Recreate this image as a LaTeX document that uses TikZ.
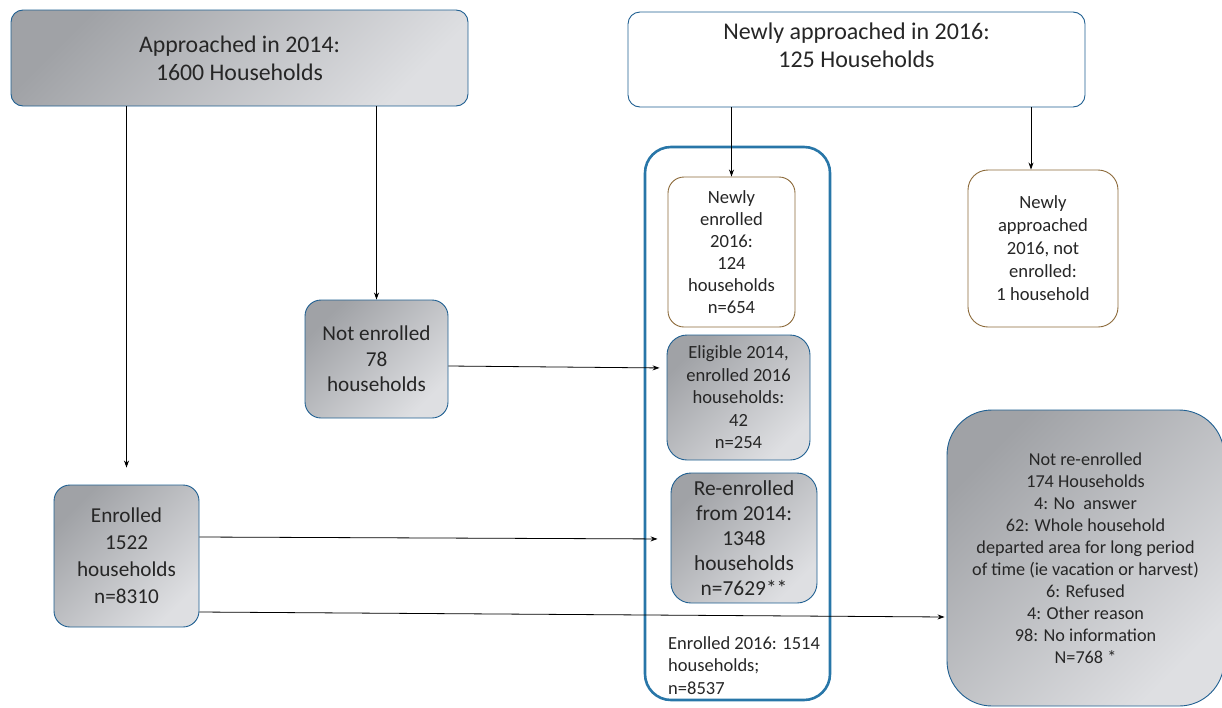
\documentclass[tikz,border=0pt]{standalone}
\usepackage{fontspec}
\setmainfont{Carlito}
\usepackage{xcolor}
\usetikzlibrary{arrows.meta}

\definecolor{boxblue}{RGB}{31,95,145}
\definecolor{frameblue}{RGB}{40,118,168}
\definecolor{boxbrown}{RGB}{140,106,58}
\definecolor{gdark}{RGB}{160,162,166}
\definecolor{glight}{RGB}{222,223,226}
\definecolor{txtgray}{RGB}{38,38,38}

\begin{document}
\begin{tikzpicture}[x=1pt,y=-1pt,
  >={Stealth[length=7pt,width=5pt]},
  graybox/.style={draw=boxblue, line width=0.9pt, rounded corners=16pt,
    top color=gdark, bottom color=glight, shading angle=45,
    align=center, text=txtgray, inner sep=0pt},
  whitebox/.style={draw=boxbrown, line width=0.9pt, rounded corners=16pt,
    fill=white, align=center, text=txtgray, inner sep=0pt},
  link/.style={->, line width=0.8pt, black}]
\useasboundingbox (0,0) rectangle (1222,707);

%Shape: Rounded Rect [id:app14]
\node (app14) [graybox, rounded corners=12pt, minimum width=457pt, minimum height=96pt, font=\fontsize{23.8}{28}\selectfont] at (239.5,58) {Approached in 2014:\\1600 Households};
%Shape: Rounded Rect [id:new16]
\node (new16) [whitebox, draw=boxblue, rounded corners=12pt, minimum width=457pt, minimum height=95pt, font=\fontsize{24}{28}\selectfont] at (856.5,59.5) {Newly approached in 2016:\\125 Households\\ \mbox{}};

%Shape: Rounded Rect [id:notenr]
\node (notenr) [graybox, minimum width=143pt, minimum height=118pt, font=\fontsize{21.2}{25.5}\selectfont] at (376.5,359) {Not enrolled\\78\\households};
%Shape: Rounded Rect [id:enr]
\node (enr) [graybox, minimum width=145pt, minimum height=142pt, font=\fontsize{21.2}{27}\selectfont] at (126.5,556) {Enrolled\\1522\\households\\n=8310};

%Shape: Rounded Rect [id:frame16]
\node (frame16) [draw=frameblue, line width=2.6pt, rounded corners=26pt, minimum width=185pt, minimum height=553pt, inner sep=0pt] at (737.5,423.5) {};
%Shape: Rounded Rect [id:newenr]
\node (newenr) [whitebox, minimum width=127pt, minimum height=150pt, font=\fontsize{18.6}{22}\selectfont] at (731.5,252) {Newly\\enrolled\\2016:\\124\\households\\n=654};
%Shape: Rounded Rect [id:elig]
\node (elig) [graybox, rounded corners=20pt, minimum width=143pt, minimum height=125pt, font=\fontsize{18.6}{22.5}\selectfont] at (738.5,397.5) {Eligible 2014,\\enrolled 2016\\households:\\42\\n=254};
%Shape: Rounded Rect [id:reenr]
\node (reenr) [graybox, rounded corners=20pt, minimum width=146pt, minimum height=130pt, font=\fontsize{21.4}{25}\selectfont] at (744,538) {Re-enrolled\\from 2014:\\1348\\households\\n=7629**};
% Text Node
\node (enr16) [anchor=west, align=left, inner sep=0pt, text=txtgray, font=\fontsize{18.5}{22.5}\selectfont] at (668,665.5) {Enrolled 2016: 1514\\households;\\n=8537};

%Shape: Rounded Rect [id:newnot]
\node (newnot) [whitebox, rounded corners=20pt, minimum width=150pt, minimum height=157pt, font=\fontsize{18.6}{23}\selectfont] at (1043,248.5) {Newly\\approached\\2016, not\\enrolled:\\1 household};
%Shape: Rounded Rect [id:notre]
\node (notre) [graybox, rounded corners=45pt, minimum width=277pt, minimum height=296pt, font=\fontsize{18.2}{22}\selectfont] at (1085.5,558) {Not re-enrolled\\174 Households\\4: No\ \ answer\\62: Whole household\\departed area for long period\\of time (ie vacation or harvest)\\6: Refused\\4: Other reason\\98: No information\\N=768 *};

%Straight Lines
\draw [link] (app14.south -| enr.north) -- ([yshift=17pt]enr.north);
\draw [link] (app14.south -| notenr.north) -- (notenr.north);
\draw [link] (new16.south -| newenr.north) -- (newenr.north);
\draw [link] ([xshift=174.5pt]new16.south) -- ([xshift=-12pt]newnot.north);
\draw [link, shorten >=7pt] ([yshift=-7pt]notenr.east) -- ([yshift=29.5pt]elig.west);
\draw [link, shorten >=13pt] ([yshift=19pt]enr.east) -- ([yshift=-1pt]reenr.west);
\draw [link, shorten >=2pt] ([yshift=-56pt]enr.east) -- ([yshift=-59pt]notre.west);
\end{tikzpicture}
\end{document}
